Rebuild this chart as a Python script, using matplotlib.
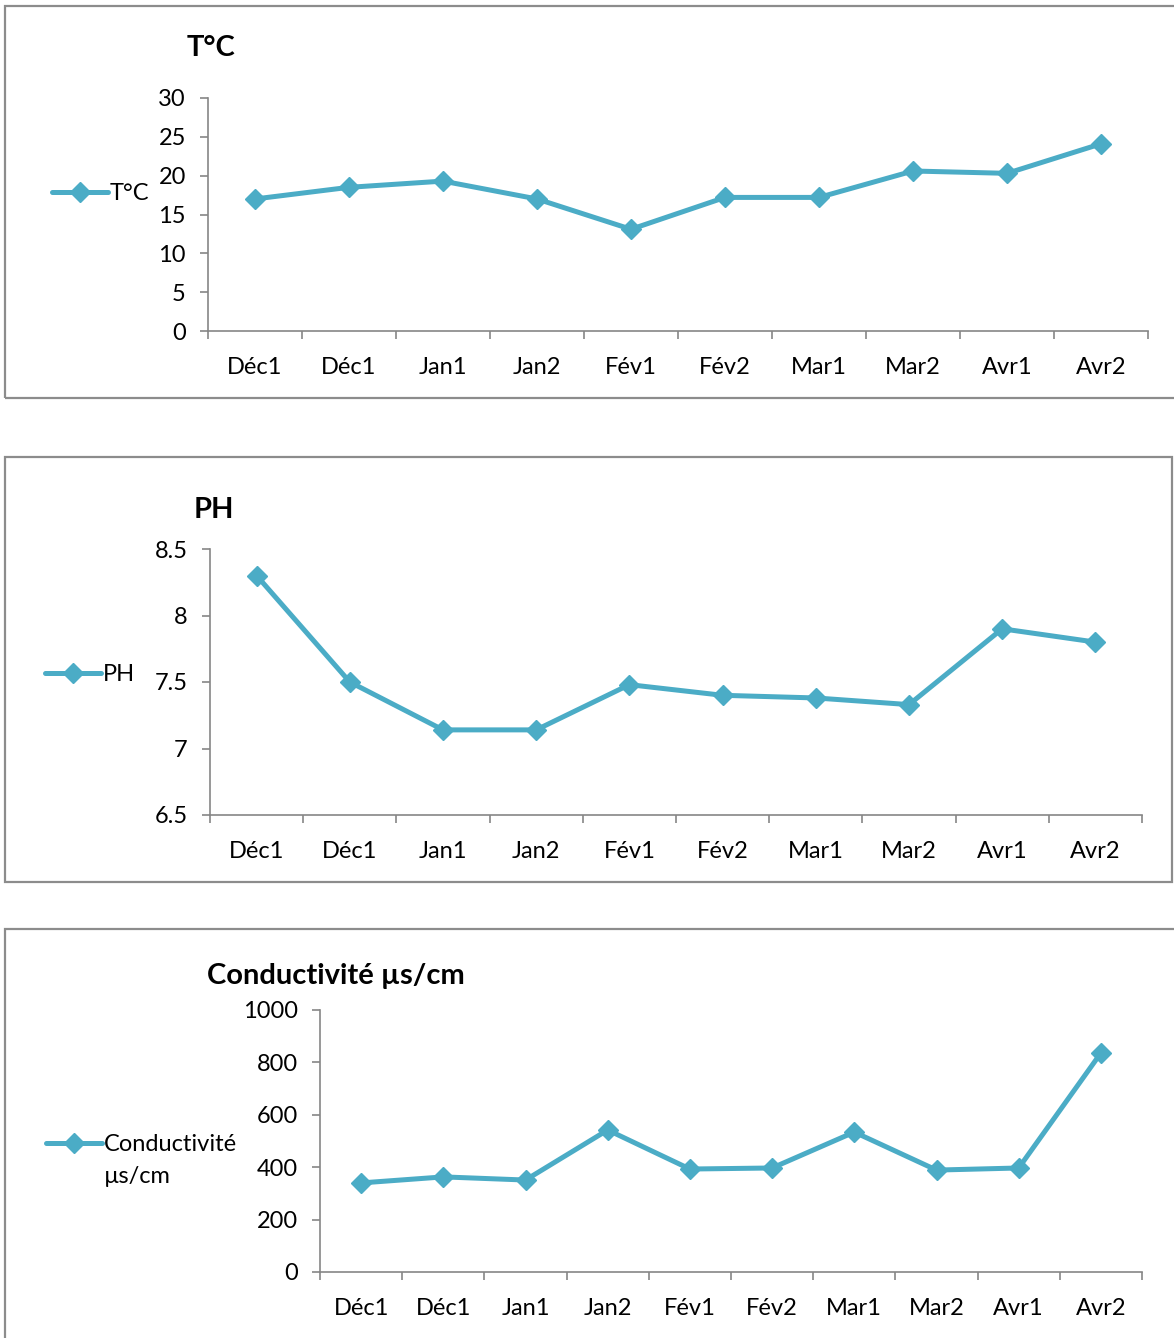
import matplotlib.pyplot as plt
from matplotlib.lines import Line2D
from matplotlib.patches import Rectangle

plt.rcParams['font.family'] = ['Lato', 'DejaVu Sans']

W, H = 1174, 1338
LINE_COLOR = '#4BACC6'
AXIS_COLOR = '#868686'
FRAME_COLOR = '#8c8c8c'

categories = ['Déc1', 'Déc1', 'Jan1', 'Jan2', 'Fév1', 'Fév2', 'Mar1', 'Mar2', 'Avr1', 'Avr2']

temperature = [17.0, 18.5, 19.3, 17.0, 13.1, 17.2, 17.2, 20.6, 20.3, 24.1]
temp_ticks = [0, 5, 10, 15, 20, 25, 30]
temp_labels = ['0', '5', '10', '15', '20', '25', '30']

ph = [8.30, 7.50, 7.14, 7.14, 7.48, 7.40, 7.38, 7.33, 7.90, 7.80]
ph_ticks = [6.5, 7, 7.5, 8, 8.5]
ph_labels = ['6.5', '7', '7.5', '8', '8.5']

conductivity = [340, 363, 351, 542, 393, 397, 534, 389, 397, 836]
cond_ticks = [0, 200, 400, 600, 800, 1000]
cond_labels = ['0', '200', '400', '600', '800', '1000']

fig = plt.figure(figsize=(W / 100, H / 100), dpi=100)


def fx(px):
    return px / W


def fy(py):
    return 1 - py / H


def panel(frame, box, values, ticks, labels, title, title_xy, legend_text, legend_xy):
    # chart frame (pixel box: left, top, right, bottom)
    l, t, r, b = frame
    fig.add_artist(Rectangle((fx(l), fy(b)), fx(r - l), (b - t) / H,
                             transform=fig.transFigure, fill=False,
                             edgecolor=FRAME_COLOR, linewidth=1.6, clip_on=False))

    al, at, ar, ab = box
    ax = fig.add_axes([fx(al), fy(ab), fx(ar - al), (ab - at) / H])
    x = list(range(1, len(values) + 1))
    ax.plot(x, values, color=LINE_COLOR, linewidth=3.6, marker='D',
            markersize=10.5, markeredgewidth=1, markeredgecolor=LINE_COLOR,
            solid_joinstyle='round', clip_on=False, zorder=3)

    ax.set_xlim(0.5, len(values) + 0.5)
    ax.set_ylim(ticks[0], ticks[-1])
    ax.set_yticks(ticks)
    ax.set_yticklabels(labels)
    ax.set_xticks([i + 0.5 for i in range(len(values) + 1)])
    ax.set_xticklabels([])
    ax.set_xticks(x, minor=True)
    ax.set_xticklabels(categories, minor=True)

    for side in ('top', 'right'):
        ax.spines[side].set_visible(False)
    for side in ('left', 'bottom'):
        ax.spines[side].set_color(AXIS_COLOR)
        ax.spines[side].set_linewidth(1.2)

    ax.tick_params(axis='y', which='major', direction='out', length=6,
                   width=1.2, color=AXIS_COLOR, labelsize=17, pad=10)
    ax.tick_params(axis='x', which='major', direction='out', length=6,
                   width=1.2, color=AXIS_COLOR)
    ax.tick_params(axis='x', which='minor', length=0, labelsize=17, pad=19)

    fig.text(fx(title_xy[0]), fy(title_xy[1]), title, fontsize=21,
             fontweight='bold', ha='center', va='center')

    # legend entry: line with a diamond, then the label
    lx, ly = legend_xy
    fig.add_artist(Line2D([fx(lx), fx(lx + 56)], [fy(ly), fy(ly)],
                          transform=fig.transFigure, color=LINE_COLOR,
                          linewidth=3.6, solid_capstyle='round'))
    fig.add_artist(Line2D([fx(lx + 28)], [fy(ly)], transform=fig.transFigure,
                          color=LINE_COLOR, marker='D', markersize=10.5,
                          linestyle='none'))
    fig.text(fx(lx + 58), fy(ly - 9), legend_text, fontsize=17, ha='left',
             va='top', linespacing=1.62)
    return ax


panel((5, 6, 1180, 398), (208, 98, 1148, 331), temperature, temp_ticks,
      temp_labels, 'T°C', (211, 48), 'T°C', (52, 192))
panel((5, 457, 1172, 882), (210, 549, 1142, 815), ph, ph_ticks,
      ph_labels, 'PH', (214, 510), 'PH', (45, 673))
panel((5, 929, 1180, 1345), (320, 1010, 1142, 1272), conductivity, cond_ticks,
      cond_labels, 'Conductivité µs/cm', (336, 976), 'Conductivité\nµs/cm', (46, 1143))

fig.savefig('out.png', dpi=100)
